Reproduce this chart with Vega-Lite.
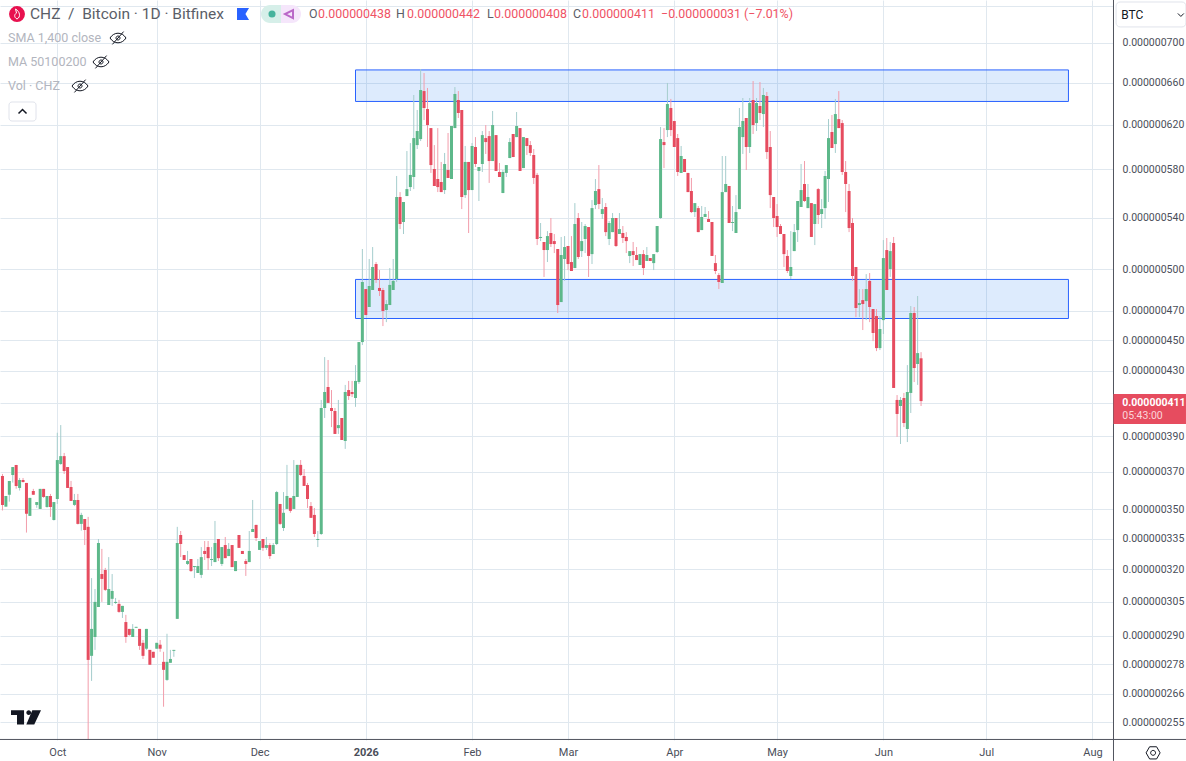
{"$schema":"https://vega.github.io/schema/vega-lite/v6.json","width":1113,"height":740,"autosize":{"type":"none"},"padding":{"left":0,"top":0,"right":73,"bottom":21},"background":"#ffffff","config":{"font":"Roboto","view":{"stroke":null}},"resolve":{"axis":{"y":"independent"}},
"datasets":{"candles":[
{"date":"2025-09-17","open":367.7e-9,"high":368.8e-9,"low":349.3e-9,"close":352.2e-9},
{"date":"2025-09-18","open":351.3e-9,"high":356.9e-9,"low":351.3e-9,"close":356.9e-9},
{"date":"2025-09-19","open":357.5e-9,"high":365.0e-9,"low":353.9e-9,"close":365.0e-9},
{"date":"2025-09-20","open":368.2e-9,"high":372.6e-9,"low":364.1e-9,"close":372.6e-9},
{"date":"2025-09-21","open":373.8e-9,"high":373.8e-9,"low":360.8e-9,"close":362.3e-9},
{"date":"2025-09-22","open":361.2e-9,"high":366.6e-9,"low":359.8e-9,"close":365.5e-9},
{"date":"2025-09-23","open":365.5e-9,"high":366.6e-9,"low":364.1e-9,"close":364.4e-9},
{"date":"2025-09-24","open":363.9e-9,"high":363.9e-9,"low":338.0e-9,"close":347.6e-9},
{"date":"2025-09-25","open":346.5e-9,"high":355.9e-9,"low":346.5e-9,"close":355.9e-9},
{"date":"2025-09-26","open":359.6e-9,"high":360.7e-9,"low":357.5e-9,"close":357.5e-9},
{"date":"2025-09-27","open":352.2e-9,"high":353.7e-9,"low":350.7e-9,"close":353.7e-9},
{"date":"2025-09-28","open":350.1e-9,"high":360.7e-9,"low":350.1e-9,"close":360.7e-9},
{"date":"2025-09-29","open":360.7e-9,"high":360.7e-9,"low":355.9e-9,"close":356.4e-9},
{"date":"2025-09-30","open":351.1e-9,"high":356.9e-9,"low":350.7e-9,"close":356.9e-9},
{"date":"2025-10-01","open":356.9e-9,"high":358.0e-9,"low":346.0e-9,"close":351.1e-9},
{"date":"2025-10-02","open":344.4e-9,"high":353.7e-9,"low":344.1e-9,"close":353.7e-9},
{"date":"2025-10-03","open":355.3e-9,"high":392.1e-9,"low":352.7e-9,"close":376.5e-9},
{"date":"2025-10-04","open":374.3e-9,"high":396.6e-9,"low":373.8e-9,"close":378.7e-9},
{"date":"2025-10-05","open":378.7e-9,"high":380.5e-9,"low":368.8e-9,"close":370.4e-9},
{"date":"2025-10-06","open":372.6e-9,"high":372.6e-9,"low":361.2e-9,"close":361.2e-9},
{"date":"2025-10-07","open":361.7e-9,"high":365.0e-9,"low":354.3e-9,"close":354.3e-9},
{"date":"2025-10-08","open":352.2e-9,"high":358.0e-9,"low":351.6e-9,"close":354.8e-9},
{"date":"2025-10-09","open":354.8e-9,"high":358.0e-9,"low":342.1e-9,"close":342.4e-9},
{"date":"2025-10-10","open":342.4e-9,"high":348.1e-9,"low":339.0e-9,"close":347.0e-9},
{"date":"2025-10-11","open":344.9e-9,"high":344.9e-9,"low":331.8e-9,"close":339.3e-9},
{"date":"2025-10-12","open":340.9e-9,"high":346.0e-9,"low":248.3e-9,"close":279.7e-9},
{"date":"2025-10-13","open":281.4e-9,"high":315.9e-9,"low":271.1e-9,"close":292.9e-9},
{"date":"2025-10-14","open":289.4e-9,"high":310.8e-9,"low":283.9e-9,"close":304.9e-9},
{"date":"2025-10-15","open":302.6e-9,"high":334.8e-9,"low":302.6e-9,"close":332.8e-9},
{"date":"2025-10-16","open":317.8e-9,"high":329.9e-9,"low":304.9e-9,"close":315.5e-9},
{"date":"2025-10-17","open":319.7e-9,"high":320.7e-9,"low":309.9e-9,"close":310.4e-9},
{"date":"2025-10-18","open":303.5e-9,"high":325.9e-9,"low":303.5e-9,"close":310.8e-9},
{"date":"2025-10-19","open":306.3e-9,"high":317.8e-9,"low":303.1e-9,"close":309.9e-9},
{"date":"2025-10-20","open":304.4e-9,"high":306.7e-9,"low":304.0e-9,"close":304.9e-9},
{"date":"2025-10-21","open":304.0e-9,"high":305.8e-9,"low":300.0e-9,"close":300.4e-9},
{"date":"2025-10-22","open":300.4e-9,"high":303.1e-9,"low":297.7e-9,"close":303.1e-9},
{"date":"2025-10-23","open":295.9e-9,"high":299.1e-9,"low":286.9e-9,"close":289.4e-9},
{"date":"2025-10-24","open":292.9e-9,"high":292.9e-9,"low":289.9e-9,"close":290.3e-9},
{"date":"2025-10-25","open":289.4e-9,"high":295.0e-9,"low":289.4e-9,"close":292.9e-9},
{"date":"2025-10-26","open":293.4e-9,"high":293.8e-9,"low":293.4e-9,"close":293.8e-9},
{"date":"2025-10-27","open":292.9e-9,"high":292.9e-9,"low":283.9e-9,"close":285.6e-9},
{"date":"2025-10-28","open":286.9e-9,"high":288.1e-9,"low":280.1e-9,"close":281.4e-9},
{"date":"2025-10-29","open":284.4e-9,"high":292.9e-9,"low":283.9e-9,"close":292.9e-9},
{"date":"2025-10-30","open":283.9e-9,"high":283.9e-9,"low":277.7e-9,"close":277.7e-9},
{"date":"2025-10-31","open":283.1e-9,"high":283.1e-9,"low":280.6e-9,"close":280.6e-9},
{"date":"2025-11-01","open":284.4e-9,"high":286.9e-9,"low":284.4e-9,"close":286.9e-9},
{"date":"2025-11-02","open":286.1e-9,"high":288.1e-9,"low":283.1e-9,"close":284.4e-9},
{"date":"2025-11-03","open":278.9e-9,"high":283.1e-9,"low":260.9e-9,"close":275.6e-9},
{"date":"2025-11-04","open":271.5e-9,"high":290.8e-9,"low":271.1e-9,"close":278.9e-9},
{"date":"2025-11-05","open":278.5e-9,"high":283.9e-9,"low":278.5e-9,"close":280.1e-9},
{"date":"2025-11-06","open":283.5e-9,"high":283.9e-9,"low":281.0e-9,"close":283.9e-9},
{"date":"2025-11-07","open":297.3e-9,"high":340.9e-9,"low":297.3e-9,"close":332.8e-9},
{"date":"2025-11-08","open":336.8e-9,"high":338.8e-9,"low":325.9e-9,"close":332.3e-9},
{"date":"2025-11-09","open":326.9e-9,"high":326.9e-9,"low":324.5e-9,"close":324.5e-9},
{"date":"2025-11-10","open":322.6e-9,"high":328.9e-9,"low":322.1e-9,"close":324.0e-9},
{"date":"2025-11-11","open":325.0e-9,"high":325.0e-9,"low":318.8e-9,"close":319.2e-9},
{"date":"2025-11-12","open":321.1e-9,"high":321.6e-9,"low":315.9e-9,"close":321.6e-9},
{"date":"2025-11-13","open":318.3e-9,"high":325.0e-9,"low":318.3e-9,"close":321.6e-9},
{"date":"2025-11-14","open":317.4e-9,"high":330.8e-9,"low":315.9e-9,"close":325.9e-9},
{"date":"2025-11-15","open":328.9e-9,"high":333.8e-9,"low":324.5e-9,"close":327.4e-9},
{"date":"2025-11-16","open":330.8e-9,"high":333.8e-9,"low":319.7e-9,"close":325.4e-9},
{"date":"2025-11-17","open":324.5e-9,"high":330.8e-9,"low":321.6e-9,"close":325.0e-9},
{"date":"2025-11-18","open":323.5e-9,"high":343.9e-9,"low":323.5e-9,"close":332.8e-9},
{"date":"2025-11-19","open":334.8e-9,"high":334.8e-9,"low":324.0e-9,"close":325.4e-9},
{"date":"2025-11-20","open":322.6e-9,"high":330.8e-9,"low":321.6e-9,"close":330.8e-9},
{"date":"2025-11-21","open":331.8e-9,"high":335.8e-9,"low":325.4e-9,"close":325.4e-9},
{"date":"2025-11-22","open":326.4e-9,"high":332.8e-9,"low":326.4e-9,"close":329.9e-9},
{"date":"2025-11-23","open":331.8e-9,"high":331.8e-9,"low":321.1e-9,"close":321.1e-9},
{"date":"2025-11-24","open":319.2e-9,"high":324.0e-9,"low":319.2e-9,"close":324.0e-9},
{"date":"2025-11-25","open":336.8e-9,"high":336.8e-9,"low":330.4e-9,"close":330.4e-9},
{"date":"2025-11-26","open":328.9e-9,"high":328.9e-9,"low":327.4e-9,"close":327.4e-9},
{"date":"2025-11-27","open":324.0e-9,"high":325.0e-9,"low":316.9e-9,"close":322.6e-9},
{"date":"2025-11-28","open":323.5e-9,"high":338.8e-9,"low":323.5e-9,"close":328.9e-9},
{"date":"2025-11-29","open":338.3e-9,"high":354.8e-9,"low":338.3e-9,"close":339.8e-9},
{"date":"2025-11-30","open":341.9e-9,"high":341.9e-9,"low":333.8e-9,"close":335.3e-9},
{"date":"2025-12-01","open":329.4e-9,"high":333.8e-9,"low":329.4e-9,"close":333.8e-9},
{"date":"2025-12-02","open":334.8e-9,"high":334.8e-9,"low":328.9e-9,"close":330.4e-9},
{"date":"2025-12-03","open":330.4e-9,"high":335.8e-9,"low":329.4e-9,"close":331.8e-9},
{"date":"2025-12-04","open":331.8e-9,"high":332.8e-9,"low":325.0e-9,"close":326.4e-9},
{"date":"2025-12-05","open":327.4e-9,"high":332.8e-9,"low":327.4e-9,"close":331.8e-9},
{"date":"2025-12-06","open":332.3e-9,"high":359.6e-9,"low":331.8e-9,"close":359.0e-9},
{"date":"2025-12-07","open":352.7e-9,"high":352.7e-9,"low":341.9e-9,"close":342.4e-9},
{"date":"2025-12-08","open":340.3e-9,"high":359.0e-9,"low":338.8e-9,"close":348.1e-9},
{"date":"2025-12-09","open":350.1e-9,"high":373.8e-9,"low":350.1e-9,"close":356.9e-9},
{"date":"2025-12-10","open":355.9e-9,"high":355.9e-9,"low":348.1e-9,"close":349.1e-9},
{"date":"2025-12-11","open":350.1e-9,"high":376.5e-9,"low":350.1e-9,"close":356.9e-9},
{"date":"2025-12-12","open":356.4e-9,"high":373.8e-9,"low":356.4e-9,"close":373.8e-9},
{"date":"2025-12-13","open":373.8e-9,"high":376.5e-9,"low":367.7e-9,"close":368.2e-9},
{"date":"2025-12-14","open":367.7e-9,"high":371.5e-9,"low":362.3e-9,"close":362.3e-9},
{"date":"2025-12-15","open":362.8e-9,"high":363.9e-9,"low":350.6e-9,"close":355.3e-9},
{"date":"2025-12-16","open":351.6e-9,"high":353.7e-9,"low":345.5e-9,"close":345.5e-9},
{"date":"2025-12-17","open":347.0e-9,"high":350.6e-9,"low":335.8e-9,"close":337.3e-9},
{"date":"2025-12-18","open":334.3e-9,"high":338.8e-9,"low":330.8e-9,"close":334.8e-9},
{"date":"2025-12-19","open":337.3e-9,"high":411.7e-9,"low":336.8e-9,"close":406.8e-9},
{"date":"2025-12-20","open":406.8e-9,"high":438.8e-9,"low":400.8e-9,"close":416.6e-9},
{"date":"2025-12-21","open":419.7e-9,"high":436.9e-9,"low":409.9e-9,"close":409.9e-9},
{"date":"2025-12-22","open":406.8e-9,"high":417.8e-9,"low":395.4e-9,"close":405.0e-9},
{"date":"2025-12-23","open":405.0e-9,"high":406.8e-9,"low":391.4e-9,"close":391.4e-9},
{"date":"2025-12-24","open":394.8e-9,"high":411.7e-9,"low":391.4e-9,"close":396.6e-9},
{"date":"2025-12-25","open":400.8e-9,"high":400.8e-9,"low":387.9e-9,"close":387.9e-9},
{"date":"2025-12-26","open":387.3e-9,"high":421.0e-9,"low":382.8e-9,"close":416.6e-9},
{"date":"2025-12-27","open":417.8e-9,"high":423.5e-9,"low":411.7e-9,"close":414.1e-9},
{"date":"2025-12-28","open":416.6e-9,"high":423.5e-9,"low":413.5e-9,"close":415.3e-9},
{"date":"2025-12-29","open":412.9e-9,"high":433.6e-9,"low":407.5e-9,"close":423.5e-9},
{"date":"2025-12-30","open":422.8e-9,"high":448.7e-9,"low":421.6e-9,"close":448.7e-9},
{"date":"2025-12-31","open":448.7e-9,"high":515.3e-9,"low":446.7e-9,"close":490.6e-9},
{"date":"2026-01-01","open":485.5e-9,"high":485.5e-9,"low":467.1e-9,"close":467.1e-9},
{"date":"2026-01-02","open":472.7e-9,"high":507.7e-9,"low":472.7e-9,"close":487.7e-9},
{"date":"2026-01-03","open":484.8e-9,"high":516.8e-9,"low":484.8e-9,"close":501.7e-9},
{"date":"2026-01-04","open":503.9e-9,"high":505.4e-9,"low":489.9e-9,"close":492.1e-9},
{"date":"2026-01-05","open":486.3e-9,"high":499.4e-9,"low":480.5e-9,"close":484.1e-9},
{"date":"2026-01-06","open":484.8e-9,"high":486.3e-9,"low":459.5e-9,"close":469.9e-9},
{"date":"2026-01-07","open":470.6e-9,"high":477.6e-9,"low":462.2e-9,"close":474.8e-9},
{"date":"2026-01-08","open":474.1e-9,"high":500.9e-9,"low":474.1e-9,"close":488.5e-9},
{"date":"2026-01-09","open":484.8e-9,"high":507.7e-9,"low":484.8e-9,"close":491.4e-9},
{"date":"2026-01-10","open":492.8e-9,"high":574.4e-9,"low":490.6e-9,"close":556.7e-9},
{"date":"2026-01-11","open":556.7e-9,"high":560.8e-9,"low":530.8e-9,"close":534.8e-9},
{"date":"2026-01-12","open":536.4e-9,"high":552.6e-9,"low":526.9e-9,"close":552.6e-9},
{"date":"2026-01-13","open":557.5e-9,"high":596.1e-9,"low":557.5e-9,"close":563.3e-9},
{"date":"2026-01-14","open":565.0e-9,"high":603.2e-9,"low":561.7e-9,"close":575.3e-9},
{"date":"2026-01-15","open":573.5e-9,"high":647.9e-9,"low":563.3e-9,"close":607.7e-9},
{"date":"2026-01-16","open":601.4e-9,"high":633.6e-9,"low":597.9e-9,"close":614.1e-9},
{"date":"2026-01-17","open":606.8e-9,"high":673.4e-9,"low":605.0e-9,"close":652.7e-9},
{"date":"2026-01-18","open":651.7e-9,"high":669.4e-9,"low":624.2e-9,"close":635.5e-9},
{"date":"2026-01-19","open":634.5e-9,"high":654.7e-9,"low":599.7e-9,"close":619.6e-9},
{"date":"2026-01-20","open":616.8e-9,"high":616.8e-9,"low":577.0e-9,"close":583.8e-9},
{"date":"2026-01-21","open":580.4e-9,"high":601.4e-9,"low":565.9e-9,"close":565.9e-9},
{"date":"2026-01-22","open":571.8e-9,"high":616.8e-9,"low":560.8e-9,"close":565.0e-9},
{"date":"2026-01-23","open":569.3e-9,"high":586.5e-9,"low":560.8e-9,"close":560.8e-9},
{"date":"2026-01-24","open":562.5e-9,"high":594.4e-9,"low":559.2e-9,"close":584.7e-9},
{"date":"2026-01-25","open":579.5e-9,"high":612.3e-9,"low":572.7e-9,"close":572.7e-9},
{"date":"2026-01-26","open":571.8e-9,"high":618.7e-9,"low":571.8e-9,"close":618.7e-9},
{"date":"2026-01-27","open":616.8e-9,"high":655.6e-9,"low":616.8e-9,"close":648.9e-9},
{"date":"2026-01-28","open":643.1e-9,"high":651.7e-9,"low":626.1e-9,"close":630.8e-9},
{"date":"2026-01-29","open":633.6e-9,"high":633.6e-9,"low":546.8e-9,"close":556.7e-9},
{"date":"2026-01-30","open":558.3e-9,"high":600.6e-9,"low":555.9e-9,"close":586.5e-9},
{"date":"2026-01-31","open":586.5e-9,"high":586.5e-9,"low":527.7e-9,"close":562.5e-9},
{"date":"2026-02-01","open":562.5e-9,"high":603.2e-9,"low":562.5e-9,"close":600.6e-9},
{"date":"2026-02-02","open":599.7e-9,"high":608.6e-9,"low":582.1e-9,"close":584.7e-9},
{"date":"2026-02-03","open":578.7e-9,"high":582.1e-9,"low":553.4e-9,"close":582.1e-9},
{"date":"2026-02-04","open":584.7e-9,"high":614.1e-9,"low":577.8e-9,"close":610.4e-9},
{"date":"2026-02-05","open":607.7e-9,"high":619.6e-9,"low":593.5e-9,"close":604.1e-9},
{"date":"2026-02-06","open":609.5e-9,"high":614.1e-9,"low":568.5e-9,"close":587.3e-9},
{"date":"2026-02-07","open":587.3e-9,"high":632.7e-9,"low":587.3e-9,"close":619.6e-9},
{"date":"2026-02-08","open":610.4e-9,"high":610.4e-9,"low":578.7e-9,"close":578.7e-9},
{"date":"2026-02-09","open":577.8e-9,"high":585.6e-9,"low":573.5e-9,"close":573.5e-9},
{"date":"2026-02-10","open":560.0e-9,"high":579.5e-9,"low":560.0e-9,"close":577.8e-9},
{"date":"2026-02-11","open":577.0e-9,"high":583.8e-9,"low":573.5e-9,"close":583.8e-9},
{"date":"2026-02-12","open":589.9e-9,"high":607.7e-9,"low":589.9e-9,"close":604.1e-9},
{"date":"2026-02-13","open":611.4e-9,"high":611.4e-9,"low":590.8e-9,"close":590.8e-9},
{"date":"2026-02-14","open":608.6e-9,"high":631.7e-9,"low":608.6e-9,"close":618.7e-9},
{"date":"2026-02-15","open":616.8e-9,"high":616.8e-9,"low":578.7e-9,"close":578.7e-9},
{"date":"2026-02-16","open":581.2e-9,"high":608.6e-9,"low":581.2e-9,"close":608.6e-9},
{"date":"2026-02-17","open":607.7e-9,"high":607.7e-9,"low":592.6e-9,"close":600.6e-9},
{"date":"2026-02-18","open":601.4e-9,"high":605.0e-9,"low":591.7e-9,"close":594.4e-9},
{"date":"2026-02-19","open":592.6e-9,"high":597.9e-9,"low":567.6e-9,"close":572.7e-9},
{"date":"2026-02-20","open":575.3e-9,"high":577.0e-9,"low":518.3e-9,"close":523.0e-9},
{"date":"2026-02-21","open":523.8e-9,"high":535.6e-9,"low":521.4e-9,"close":524.6e-9},
{"date":"2026-02-22","open":520.7e-9,"high":520.7e-9,"low":494.3e-9,"close":514.5e-9},
{"date":"2026-02-23","open":514.5e-9,"high":529.2e-9,"low":505.4e-9,"close":525.3e-9},
{"date":"2026-02-24","open":527.7e-9,"high":539.6e-9,"low":516.8e-9,"close":519.1e-9},
{"date":"2026-02-25","open":521.4e-9,"high":526.9e-9,"low":512.2e-9,"close":519.1e-9},
{"date":"2026-02-26","open":515.3e-9,"high":515.3e-9,"low":468.5e-9,"close":474.1e-9},
{"date":"2026-02-27","open":476.2e-9,"high":524.6e-9,"low":476.2e-9,"close":510.7e-9},
{"date":"2026-02-28","open":507.7e-9,"high":525.3e-9,"low":491.4e-9,"close":516.8e-9},
{"date":"2026-03-01","open":517.6e-9,"high":517.6e-9,"low":499.4e-9,"close":503.9e-9},
{"date":"2026-03-02","open":505.4e-9,"high":525.3e-9,"low":498.7e-9,"close":498.7e-9},
{"date":"2026-03-03","open":500.9e-9,"high":551.7e-9,"low":500.9e-9,"close":534.8e-9},
{"date":"2026-03-04","open":539.6e-9,"high":543.6e-9,"low":507.7e-9,"close":509.2e-9},
{"date":"2026-03-05","open":513.7e-9,"high":536.4e-9,"low":509.2e-9,"close":521.4e-9},
{"date":"2026-03-06","open":523.0e-9,"high":534.8e-9,"low":512.2e-9,"close":533.2e-9},
{"date":"2026-03-07","open":532.4e-9,"high":532.4e-9,"low":494.3e-9,"close":510.0e-9},
{"date":"2026-03-08","open":511.4e-9,"high":554.2e-9,"low":503.9e-9,"close":547.6e-9},
{"date":"2026-03-09","open":550.1e-9,"high":571.8e-9,"low":546.8e-9,"close":561.7e-9},
{"date":"2026-03-10","open":563.3e-9,"high":583.8e-9,"low":546.8e-9,"close":550.9e-9},
{"date":"2026-03-11","open":542.8e-9,"high":555.9e-9,"low":538.8e-9,"close":546.8e-9},
{"date":"2026-03-12","open":548.5e-9,"high":551.7e-9,"low":525.3e-9,"close":528.4e-9},
{"date":"2026-03-13","open":523.0e-9,"high":537.2e-9,"low":518.3e-9,"close":535.6e-9},
{"date":"2026-03-14","open":528.4e-9,"high":543.6e-9,"low":528.4e-9,"close":539.6e-9},
{"date":"2026-03-15","open":539.6e-9,"high":539.6e-9,"low":516.8e-9,"close":517.6e-9},
{"date":"2026-03-16","open":526.9e-9,"high":543.6e-9,"low":526.9e-9,"close":530.8e-9},
{"date":"2026-03-17","open":527.7e-9,"high":533.2e-9,"low":519.9e-9,"close":523.8e-9},
{"date":"2026-03-18","open":524.6e-9,"high":528.4e-9,"low":512.2e-9,"close":521.4e-9},
{"date":"2026-03-19","open":510.0e-9,"high":513.7e-9,"low":504.6e-9,"close":513.7e-9},
{"date":"2026-03-20","open":513.7e-9,"high":520.7e-9,"low":502.4e-9,"close":510.7e-9},
{"date":"2026-03-21","open":510.7e-9,"high":516.8e-9,"low":506.9e-9,"close":506.9e-9},
{"date":"2026-03-22","open":503.2e-9,"high":511.4e-9,"low":503.2e-9,"close":511.4e-9},
{"date":"2026-03-23","open":511.4e-9,"high":514.5e-9,"low":495.7e-9,"close":500.9e-9},
{"date":"2026-03-24","open":506.2e-9,"high":516.8e-9,"low":506.2e-9,"close":510.7e-9},
{"date":"2026-03-25","open":508.4e-9,"high":508.4e-9,"low":506.2e-9,"close":506.2e-9},
{"date":"2026-03-26","open":504.6e-9,"high":511.4e-9,"low":499.4e-9,"close":511.4e-9},
{"date":"2026-03-27","open":513.0e-9,"high":533.2e-9,"low":512.2e-9,"close":533.2e-9},
{"date":"2026-03-28","open":539.6e-9,"high":617.8e-9,"low":538.8e-9,"close":606.8e-9},
{"date":"2026-03-29","open":604.1e-9,"high":616.8e-9,"low":581.2e-9,"close":601.4e-9},
{"date":"2026-03-30","open":615.0e-9,"high":659.6e-9,"low":608.6e-9,"close":639.3e-9},
{"date":"2026-03-31","open":635.5e-9,"high":644.1e-9,"low":609.5e-9,"close":615.0e-9},
{"date":"2026-04-01","open":623.3e-9,"high":623.3e-9,"low":599.7e-9,"close":599.7e-9},
{"date":"2026-04-02","open":607.7e-9,"high":611.4e-9,"low":574.4e-9,"close":577.8e-9},
{"date":"2026-04-03","open":577.0e-9,"high":600.6e-9,"low":577.0e-9,"close":591.7e-9},
{"date":"2026-04-04","open":589.1e-9,"high":589.1e-9,"low":577.8e-9,"close":577.8e-9},
{"date":"2026-04-05","open":577.0e-9,"high":577.0e-9,"low":560.8e-9,"close":560.8e-9},
{"date":"2026-04-06","open":561.7e-9,"high":572.7e-9,"low":543.6e-9,"close":544.4e-9},
{"date":"2026-04-07","open":544.4e-9,"high":551.7e-9,"low":540.4e-9,"close":551.7e-9},
{"date":"2026-04-08","open":547.6e-9,"high":549.3e-9,"low":528.4e-9,"close":528.4e-9},
{"date":"2026-04-09","open":530.0e-9,"high":549.3e-9,"low":530.0e-9,"close":540.4e-9},
{"date":"2026-04-10","open":540.4e-9,"high":548.5e-9,"low":540.4e-9,"close":542.8e-9},
{"date":"2026-04-11","open":538.8e-9,"high":545.2e-9,"low":536.4e-9,"close":536.4e-9},
{"date":"2026-04-12","open":536.4e-9,"high":536.4e-9,"low":510.0e-9,"close":510.0e-9},
{"date":"2026-04-13","open":504.6e-9,"high":510.7e-9,"low":496.4e-9,"close":498.7e-9},
{"date":"2026-04-14","open":495.7e-9,"high":497.2e-9,"low":485.5e-9,"close":490.6e-9},
{"date":"2026-04-15","open":489.9e-9,"high":591.7e-9,"low":489.9e-9,"close":560.8e-9},
{"date":"2026-04-16","open":560.8e-9,"high":591.7e-9,"low":560.8e-9,"close":567.6e-9},
{"date":"2026-04-17","open":565.9e-9,"high":565.9e-9,"low":535.6e-9,"close":535.6e-9},
{"date":"2026-04-18","open":535.6e-9,"high":549.3e-9,"low":529.2e-9,"close":536.4e-9},
{"date":"2026-04-19","open":527.7e-9,"high":558.3e-9,"low":527.7e-9,"close":544.4e-9},
{"date":"2026-04-20","open":546.8e-9,"high":635.5e-9,"low":546.8e-9,"close":617.8e-9},
{"date":"2026-04-21","open":608.6e-9,"high":645.0e-9,"low":593.5e-9,"close":623.3e-9},
{"date":"2026-04-22","open":626.1e-9,"high":626.1e-9,"low":579.5e-9,"close":599.7e-9},
{"date":"2026-04-23","open":599.7e-9,"high":645.0e-9,"low":594.4e-9,"close":640.2e-9},
{"date":"2026-04-24","open":643.1e-9,"high":661.5e-9,"low":611.4e-9,"close":619.6e-9},
{"date":"2026-04-25","open":621.4e-9,"high":645.0e-9,"low":614.1e-9,"close":640.2e-9},
{"date":"2026-04-26","open":637.4e-9,"high":660.5e-9,"low":624.2e-9,"close":630.8e-9},
{"date":"2026-04-27","open":629.8e-9,"high":654.7e-9,"low":617.8e-9,"close":647.9e-9},
{"date":"2026-04-28","open":646.9e-9,"high":650.8e-9,"low":589.1e-9,"close":595.2e-9},
{"date":"2026-04-29","open":599.7e-9,"high":614.1e-9,"low":547.6e-9,"close":558.3e-9},
{"date":"2026-04-30","open":556.7e-9,"high":556.7e-9,"low":532.4e-9,"close":539.6e-9},
{"date":"2026-05-01","open":541.2e-9,"high":550.9e-9,"low":524.6e-9,"close":532.4e-9},
{"date":"2026-05-02","open":533.2e-9,"high":534.8e-9,"low":526.9e-9,"close":526.9e-9},
{"date":"2026-05-03","open":526.9e-9,"high":526.9e-9,"low":501.7e-9,"close":511.4e-9},
{"date":"2026-05-04","open":510.0e-9,"high":514.5e-9,"low":497.2e-9,"close":498.7e-9},
{"date":"2026-05-05","open":495.0e-9,"high":529.2e-9,"low":492.8e-9,"close":501.7e-9},
{"date":"2026-05-06","open":513.7e-9,"high":534.8e-9,"low":513.7e-9,"close":528.4e-9},
{"date":"2026-05-07","open":530.0e-9,"high":553.4e-9,"low":520.7e-9,"close":553.4e-9},
{"date":"2026-05-08","open":548.5e-9,"high":584.7e-9,"low":548.5e-9,"close":562.5e-9},
{"date":"2026-05-09","open":567.6e-9,"high":587.3e-9,"low":552.6e-9,"close":553.4e-9},
{"date":"2026-05-10","open":547.6e-9,"high":567.6e-9,"low":547.6e-9,"close":556.7e-9},
{"date":"2026-05-11","open":551.7e-9,"high":551.7e-9,"low":524.6e-9,"close":524.6e-9},
{"date":"2026-05-12","open":534.8e-9,"high":550.9e-9,"low":518.3e-9,"close":550.9e-9},
{"date":"2026-05-13","open":563.3e-9,"high":564.2e-9,"low":534.8e-9,"close":542.0e-9},
{"date":"2026-05-14","open":542.8e-9,"high":555.0e-9,"low":531.6e-9,"close":546.8e-9},
{"date":"2026-05-15","open":547.6e-9,"high":578.7e-9,"low":538.8e-9,"close":574.4e-9},
{"date":"2026-05-16","open":571.8e-9,"high":625.1e-9,"low":552.6e-9,"close":607.7e-9},
{"date":"2026-05-17","open":613.2e-9,"high":628.9e-9,"low":598.8e-9,"close":598.8e-9},
{"date":"2026-05-18","open":602.3e-9,"high":644.1e-9,"low":594.4e-9,"close":629.8e-9},
{"date":"2026-05-19","open":625.1e-9,"high":651.7e-9,"low":616.8e-9,"close":616.8e-9},
{"date":"2026-05-20","open":621.4e-9,"high":624.2e-9,"low":575.3e-9,"close":577.8e-9},
{"date":"2026-05-21","open":577.8e-9,"high":587.3e-9,"low":544.4e-9,"close":567.6e-9},
{"date":"2026-05-22","open":561.7e-9,"high":567.6e-9,"low":528.4e-9,"close":531.6e-9},
{"date":"2026-05-23","open":535.6e-9,"high":539.6e-9,"low":491.4e-9,"close":495.0e-9},
{"date":"2026-05-24","open":501.7e-9,"high":501.7e-9,"low":465.7e-9,"close":472.0e-9},
{"date":"2026-05-25","open":474.1e-9,"high":485.5e-9,"low":465.7e-9,"close":475.5e-9},
{"date":"2026-05-26","open":477.6e-9,"high":485.5e-9,"low":456.8e-9,"close":474.8e-9},
{"date":"2026-05-27","open":476.9e-9,"high":496.4e-9,"low":463.6e-9,"close":485.5e-9},
{"date":"2026-05-28","open":491.4e-9,"high":497.2e-9,"low":462.2e-9,"close":472.7e-9},
{"date":"2026-05-29","open":471.3e-9,"high":471.3e-9,"low":449.3e-9,"close":454.8e-9},
{"date":"2026-05-30","open":466.4e-9,"high":471.3e-9,"low":442.7e-9,"close":444.7e-9},
{"date":"2026-05-31","open":444.7e-9,"high":466.4e-9,"low":443.4e-9,"close":457.5e-9},
{"date":"2026-06-01","open":463.6e-9,"high":522.2e-9,"low":454.1e-9,"close":508.4e-9},
{"date":"2026-06-02","open":514.5e-9,"high":523.8e-9,"low":484.8e-9,"close":484.8e-9},
{"date":"2026-06-03","open":500.2e-9,"high":520.7e-9,"low":494.3e-9,"close":513.7e-9},
{"date":"2026-06-04","open":519.9e-9,"high":524.6e-9,"low":419.1e-9,"close":419.1e-9},
{"date":"2026-06-05","open":411.7e-9,"high":414.7e-9,"low":389.7e-9,"close":403.2e-9},
{"date":"2026-06-06","open":408.0e-9,"high":413.5e-9,"low":385.6e-9,"close":411.7e-9},
{"date":"2026-06-07","open":412.9e-9,"high":416.0e-9,"low":395.4e-9,"close":397.8e-9},
{"date":"2026-06-08","open":394.3e-9,"high":433.6e-9,"low":386.7e-9,"close":416.6e-9},
{"date":"2026-06-09","open":416.0e-9,"high":473.4e-9,"low":403.8e-9,"close":468.5e-9},
{"date":"2026-06-10","open":468.5e-9,"high":472.7e-9,"low":422.8e-9,"close":431.7e-9},
{"date":"2026-06-11","open":434.3e-9,"high":480.5e-9,"low":421.0e-9,"close":441.4e-9},
{"date":"2026-06-12","open":438e-9,"high":442e-9,"low":408e-9,"close":411e-9}
]},
"encoding":{"x":{"field":"date","type":"temporal","title":null,"scale":{"type":"utc","padding":0,"domain":[{"year":2025,"month":9,"date":16,"hours":6,"minutes":43,"utc":true},{"year":2026,"month":8,"date":7,"utc":true}]},"axis":{"orient":"bottom","values":[{"year":2025,"month":10,"date":3,"utc":true},{"year":2025,"month":11,"date":1,"utc":true},{"year":2025,"month":12,"date":1,"utc":true},{"year":2026,"month":1,"date":1,"utc":true},{"year":2026,"month":2,"date":1,"utc":true},{"year":2026,"month":3,"date":1,"utc":true},{"year":2026,"month":4,"date":1,"utc":true},{"year":2026,"month":5,"date":1,"utc":true},{"year":2026,"month":6,"date":1,"utc":true},{"year":2026,"month":7,"date":1,"utc":true},{"year":2026,"month":8,"date":1,"utc":true}],"labelExpr":"utcFormat(datum.value,'%b')=='Jan'?'2026':utcFormat(datum.value,'%b')","labelFontWeight":{"condition":{"test":"utcmonth(datum.value)===0","value":"bold"},"value":"normal"},"grid":true,"gridColor":"#e0e8ef","gridWidth":1,"ticks":false,"domain":false,"labelPadding":6,"labelFontSize":11,"labelFont":"Roboto","labelColor":"#4a4e59","labelOverlap":false,"labelFlush":false,"labelBound":false}}},
"layer":[
{"data":{"values":[{"date":"2025-12-29","date2":"2026-07-25","price":672.5e-9,"price2":641.7e-9},{"date":"2025-12-29","date2":"2026-07-25","price":492.5e-9,"price2":464.7e-9}]},"mark":{"type":"rect","fill":"#1976f2","fillOpacity":0.15,"stroke":"#2962ff","strokeWidth":1},"encoding":{"x2":{"field":"date2"},"y":{"field":"price","type":"quantitative","title":null,"scale":{"type":"log","domain":[248.3e-9,746.2e-9]},"axis":{"orient":"right","values":[740e-9,700e-9,660e-9,620e-9,580e-9,540e-9,500e-9,470e-9,450e-9,430e-9,410e-9,390e-9,370e-9,350e-9,335e-9,320e-9,305e-9,290e-9,278e-9,266e-9,255e-9],"labelExpr":"abs(datum.value-7.4e-7)<1e-9||abs(datum.value-4.1e-7)<1e-9?'':format(datum.value,'.9f')","grid":true,"gridColor":"#e0e8ef","gridWidth":1,"ticks":false,"domain":false,"labelPadding":9,"labelFontSize":10.5,"labelFont":"Roboto","labelColor":"#4a4e59","labelOverlap":false,"labelFlush":false,"labelBound":false}},"y2":{"field":"price2"}}},
{"data":{"name":"candles"},"mark":{"type":"rule","strokeWidth":1},"encoding":{"y":{"field":"high","type":"quantitative","scale":{"type":"log","domain":[248.3e-9,746.2e-9]},"axis":null},"y2":{"field":"low"},"color":{"condition":{"test":"datum.close>=datum.open","value":"#a5cdcd"},"value":"#f29dab"}}},
{"data":{"name":"candles"},"mark":{"type":"bar","width":3,"orient":"vertical"},"encoding":{"y":{"field":"open","type":"quantitative","scale":{"type":"log","domain":[248.3e-9,746.2e-9]},"axis":null},"y2":{"field":"close"},"color":{"condition":{"test":"datum.close>=datum.open","value":"#5db88a"},"value":"#e64c5f"}}},
{"data":{"values":[{"date":"2026-08-07T03:30:00Z","price":746.2e-9,"price2":240.7e-9}]},"mark":{"type":"rule","color":"#50535e","strokeWidth":1},"encoding":{"y":{"field":"price","type":"quantitative","scale":{"type":"log","domain":[248.3e-9,746.2e-9]},"axis":null},"y2":{"field":"price2"}}},
{"data":{"values":[{"date":"2025-09-16T06:43:00Z","date2":"2026-08-28T07:00:00Z","price":248.5e-9}]},"mark":{"type":"rule","color":"#50535e","strokeWidth":1},"encoding":{"x2":{"field":"date2"},"y":{"field":"price","type":"quantitative","scale":{"type":"log","domain":[248.3e-9,746.2e-9]},"axis":null}}},
{"data":{"values":[{"date":"2026-08-07T03:30:00Z","date2":"2026-08-28T07:00:00Z","price":415.4e-9,"price2":397.2e-9}]},"mark":{"type":"rect","fill":"#e64c5f"},"encoding":{"x2":{"field":"date2"},"y":{"field":"price","type":"quantitative","scale":{"type":"log","domain":[248.3e-9,746.2e-9]},"axis":null},"y2":{"field":"price2"}}},
{"data":{"values":[{"date":"2026-08-09T16:48:00Z","price":409.9e-9,"label":"0.000000411"}]},"mark":{"type":"text","align":"left","baseline":"middle","fontSize":10.5,"fontWeight":"bold","color":"#ffffff"},"encoding":{"y":{"field":"price","type":"quantitative","scale":{"type":"log","domain":[248.3e-9,746.2e-9]},"axis":null},"text":{"field":"label"}}},
{"data":{"values":[{"date":"2026-08-09T16:48:00Z","price":402.0e-9,"label":"05:43:00"}]},"mark":{"type":"text","align":"left","baseline":"middle","fontSize":10.5,"color":"#fbd5da"},"encoding":{"y":{"field":"price","type":"quantitative","scale":{"type":"log","domain":[248.3e-9,746.2e-9]},"axis":null},"text":{"field":"label"}}},
{"data":{"values":[{"date":"2026-08-07T21:36:00Z","date2":"2026-08-28T07:00:00Z","price":744e-9,"price2":716.9e-9}]},"mark":{"type":"rect","fill":"#ffffff","stroke":"#e0e3eb","cornerRadius":4},"encoding":{"x2":{"field":"date2"},"y":{"field":"price","type":"quantitative","scale":{"type":"log","domain":[248.3e-9,746.2e-9]},"axis":null},"y2":{"field":"price2"}}},
{"data":{"values":[{"date":"2026-08-09T09:36:00Z","price":729.8e-9,"label":"BTC"}]},"mark":{"type":"text","align":"left","baseline":"middle","fontSize":12,"color":"#131722"},"encoding":{"y":{"field":"price","type":"quantitative","scale":{"type":"log","domain":[248.3e-9,746.2e-9]},"axis":null},"text":{"field":"label"}}},
{"data":{"values":[{"date":"2026-08-26T19:12:00Z","price":729.8e-9}]},"mark":{"type":"point","shape":"M-1 -0.5 L0 0.5 L1 -0.5","filled":false,"stroke":"#131722","strokeWidth":1,"size":36,"opacity":1},"encoding":{"y":{"field":"price","type":"quantitative","scale":{"type":"log","domain":[248.3e-9,746.2e-9]},"axis":null}}},
{"data":{"values":[{"date":"2026-08-18T16:48:00Z","price":243.6e-9}]},"mark":{"type":"point","shape":"M-1 0 L-0.5 -0.87 H0.5 L1 0 L0.5 0.87 H-0.5 Z M-0.35 0 A0.35 0.35 0 1 0 0.35 0 A0.35 0.35 0 1 0 -0.35 0","filled":false,"stroke":"#131722","strokeWidth":1,"size":196,"opacity":1},"encoding":{"y":{"field":"price","type":"quantitative","scale":{"type":"log","domain":[248.3e-9,746.2e-9]},"axis":null}}},
{"data":{"values":[{"date":"2025-09-23T20:50:00Z","price":256.8e-9}]},"mark":{"type":"point","shape":"M-1 -0.48 H-0.13 V0.48 H-0.6 V-0.16 H-1 Z M0.02 -0.32 A0.16 0.16 0 1 0 0.34 -0.32 A0.16 0.16 0 1 0 0.02 -0.32 Z M0.42 -0.48 H1 L0.55 0.48 H0.02 Z","filled":true,"fill":"#131722","size":900,"opacity":1},"encoding":{"y":{"field":"price","type":"quantitative","scale":{"type":"log","domain":[248.3e-9,746.2e-9]},"axis":null}}},
{"data":{"values":[{"date":"2025-09-21T05:46:00Z","price":730.8e-9}]},"mark":{"type":"point","shape":"circle","filled":true,"fill":"#e8114f","size":254,"opacity":1},"encoding":{"y":{"field":"price","type":"quantitative","scale":{"type":"log","domain":[248.3e-9,746.2e-9]},"axis":null}}},
{"data":{"values":[{"date":"2025-09-21T05:46:00Z","price":730.8e-9}]},"mark":{"type":"point","shape":"M-0.3 -1 C0.6 -0.5 0.8 0.6 0 1 C-0.7 0.6 -0.5 0 -0.1 -0.2 Z","filled":false,"stroke":"#ffffff","strokeWidth":1,"size":100,"opacity":1},"encoding":{"y":{"field":"price","type":"quantitative","scale":{"type":"log","domain":[248.3e-9,746.2e-9]},"axis":null}}},
{"data":{"values":[{"date":"2025-09-25T00:43:00Z","price":730.8e-9,"label":"CHZ\u00a0 /\u00a0 Bitcoin · 1D · Bitfinex"}]},"mark":{"type":"text","align":"left","baseline":"middle","fontSize":15.5,"color":"#5b5e68"},"encoding":{"y":{"field":"price","type":"quantitative","scale":{"type":"log","domain":[248.3e-9,746.2e-9]},"axis":null},"text":{"field":"label"}}},
{"data":{"values":[{"date":"2025-11-26T04:20:00Z","price":730.8e-9}]},"mark":{"type":"point","shape":"M-1 -1 H1 L0.4 0 L1 1 H-1 Z","filled":true,"fill":"#2962ff","size":144,"opacity":1},"encoding":{"y":{"field":"price","type":"quantitative","scale":{"type":"log","domain":[248.3e-9,746.2e-9]},"axis":null}}},
{"data":{"values":[{"date":"2025-12-01T10:19:00Z","date2":"2025-12-07T06:29:00Z","price":740.7e-9,"price2":721.1e-9}]},"mark":{"type":"rect","fill":"#d6efe9","cornerRadiusTopLeft":9,"cornerRadiusBottomLeft":9},"encoding":{"x2":{"field":"date2"},"y":{"field":"price","type":"quantitative","scale":{"type":"log","domain":[248.3e-9,746.2e-9]},"axis":null},"y2":{"field":"price2"}}},
{"data":{"values":[{"date":"2025-12-07T06:29:00Z","date2":"2025-12-13T02:24:00Z","price":740.7e-9,"price2":721.1e-9}]},"mark":{"type":"rect","fill":"#f5e6fb","cornerRadiusTopRight":9,"cornerRadiusBottomRight":9},"encoding":{"x2":{"field":"date2"},"y":{"field":"price","type":"quantitative","scale":{"type":"log","domain":[248.3e-9,746.2e-9]},"axis":null},"y2":{"field":"price2"}}},
{"data":{"values":[{"date":"2025-12-04T15:22:00Z","price":730.8e-9}]},"mark":{"type":"point","shape":"circle","filled":true,"fill":"#45b39c","size":50,"opacity":1},"encoding":{"y":{"field":"price","type":"quantitative","scale":{"type":"log","domain":[248.3e-9,746.2e-9]},"axis":null}}},
{"data":{"values":[{"date":"2025-12-09T14:24:00Z","price":730.8e-9}]},"mark":{"type":"point","shape":"M1 -1 L-1 0 L1 1 Z","filled":false,"stroke":"#ba68c8","strokeWidth":2,"size":64,"opacity":1},"encoding":{"y":{"field":"price","type":"quantitative","scale":{"type":"log","domain":[248.3e-9,746.2e-9]},"axis":null}}},
{"data":{"values":[{"date":"2025-12-15T10:34:00Z","price":730.8e-9,"label":"O"},{"date":"2026-01-09T19:41:00Z","price":730.8e-9,"label":"H"},{"date":"2026-02-05T08:53:00Z","price":730.8e-9,"label":"L"},{"date":"2026-03-02T11:02:00Z","price":730.8e-9,"label":"C"}]},"mark":{"type":"text","align":"left","baseline":"middle","fontSize":12.4,"color":"#5b5e68"},"encoding":{"y":{"field":"price","type":"quantitative","scale":{"type":"log","domain":[248.3e-9,746.2e-9]},"axis":null},"text":{"field":"label"}}},
{"data":{"values":[{"date":"2025-12-18T01:26:00Z","price":730.8e-9,"label":"0.000000438"},{"date":"2026-01-13T00:43:00Z","price":730.8e-9,"label":"0.000000442"},{"date":"2026-02-07T09:50:00Z","price":730.8e-9,"label":"0.000000408"},{"date":"2026-03-05T01:55:00Z","price":730.8e-9,"label":"0.000000411"},{"date":"2026-03-28T03:22:00Z","price":730.8e-9,"label":"−0.000000031 (−7.01%)"}]},"mark":{"type":"text","align":"left","baseline":"middle","fontSize":12.4,"color":"#ef5365"},"encoding":{"y":{"field":"price","type":"quantitative","scale":{"type":"log","domain":[248.3e-9,746.2e-9]},"axis":null},"text":{"field":"label"}}},
{"data":{"values":[{"date":"2025-09-18T14:53:00Z","price":705.2e-9,"label":"SMA 1,400 close"},{"date":"2025-09-18T14:53:00Z","price":680.5e-9,"label":"MA 50100200"},{"date":"2025-09-18T14:53:00Z","price":656.6e-9,"label":"Vol · CHZ"}]},"mark":{"type":"text","align":"left","baseline":"middle","fontSize":12.5,"color":"#b2b5be"},"encoding":{"y":{"field":"price","type":"quantitative","scale":{"type":"log","domain":[248.3e-9,746.2e-9]},"axis":null},"text":{"field":"label"}}},
{"data":{"values":[{"date":"2025-10-20T17:00:00Z","price":705.2e-9},{"date":"2025-10-15T18:00:00Z","price":680.5e-9},{"date":"2025-10-09T15:00:00Z","price":656.6e-9}]},"mark":{"type":"point","shape":"M-1 0 C-0.5 -0.8 0.5 -0.8 1 0 C0.5 0.8 -0.5 0.8 -1 0 Z M-0.7 0.8 L0.7 -0.8 M-0.25 0 A0.25 0.25 0 1 0 0.25 0 A0.25 0.25 0 1 0 -0.25 0","filled":false,"stroke":"#131722","strokeWidth":1,"size":256,"opacity":1},"encoding":{"y":{"field":"price","type":"quantitative","scale":{"type":"log","domain":[248.3e-9,746.2e-9]},"axis":null}}},
{"data":{"values":[{"date":"2025-09-18T21:50:00Z","date2":"2025-09-26T19:00:00Z","price":641.2e-9,"price2":623.3e-9}]},"mark":{"type":"rect","fill":"#ffffff","stroke":"#e0e3eb","cornerRadius":3},"encoding":{"x2":{"field":"date2"},"y":{"field":"price","type":"quantitative","scale":{"type":"log","domain":[248.3e-9,746.2e-9]},"axis":null},"y2":{"field":"price2"}}},
{"data":{"values":[{"date":"2025-09-22T20:24:00Z","price":632.2e-9}]},"mark":{"type":"point","shape":"M-1 0.5 L0 -0.5 L1 0.5","filled":false,"stroke":"#131722","strokeWidth":1.5,"size":64,"opacity":1},"encoding":{"y":{"field":"price","type":"quantitative","scale":{"type":"log","domain":[248.3e-9,746.2e-9]},"axis":null}}}
]}
